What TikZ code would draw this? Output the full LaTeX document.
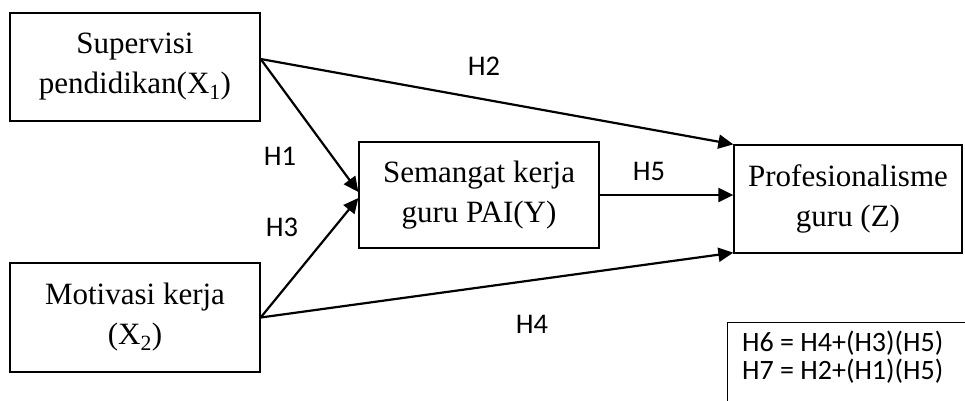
\documentclass[tikz,border=0pt]{standalone}
\usepackage{fontspec}
\setmainfont{Liberation Serif}
\newfontfamily\labelfont{Carlito}
\usetikzlibrary{arrows.meta,calc}

\begin{document}
\begin{tikzpicture}[x=1pt,y=-1pt,
  var/.style={draw, line width=1.3pt, align=center, inner sep=0pt,
    font=\fontsize{31}{40}\selectfont},
  path/.style={line width=2.2pt, -{Triangle[length=15pt,width=14pt]}},
  hlabel/.style={font=\labelfont\fontsize{28.5}{25}\selectfont, inner sep=0pt}]

\useasboundingbox (0,0) rectangle (965,400);

% Draw the variable boxes
\node[var, minimum width=250, minimum height=108] (x1) at (135,67)
  {Supervisi\\pendidikan(X\textsubscript{1})};
\node[var, minimum width=250, minimum height=109] (x2) at (135,317.5)
  {Motivasi kerja\\(X\textsubscript{2})};
\node[var, minimum width=240, minimum height=106] (y) at (479,195)
  {Semangat kerja\\guru PAI(Y)};
\node[var, minimum width=228, minimum height=108] (z) at (848,199)
  {Profesionalisme\\guru (Z)};

% Draw the paths between variables
\draw[path] ($(x1.east)+(0,-8)$) -- ($(y.west)+(0,-3)$);
\draw[path] ($(x1.east)+(0,-8)$) -- (z.north west);
\draw[path] (x2.east) -- ($(y.west)+(0,3)$);
\draw[path] (x2.east) -- ($(z.south west)+(0,-1)$);
\draw[path] (y.east) -- (y.east -| z.west);

% Label hypotheses
\node[hlabel] (h1) at (280,156) {H1};
\node[hlabel] (h2) at (484,66) {H2};
\node[hlabel] (h3) at (282,227) {H3};
\node[hlabel] (h4) at (532,324) {H4};
\node[hlabel] (h5) at (649,171) {H5};

% Indirect effect box
\node[draw, line width=1.3pt, anchor=north west, minimum width=250,
  minimum height=95, inner sep=0pt] (hbox) at (727,322) {};
\node[hlabel, anchor=base west, font=\labelfont\fontsize{28}{25}\selectfont]
  (h6) at (742,351.5) {H6 = H4+(H3)(H5)};
\node[hlabel, anchor=base west, font=\labelfont\fontsize{28}{25}\selectfont]
  (h7) at (742,379) {H7 = H2+(H1)(H5)};

\end{tikzpicture}
\end{document}
